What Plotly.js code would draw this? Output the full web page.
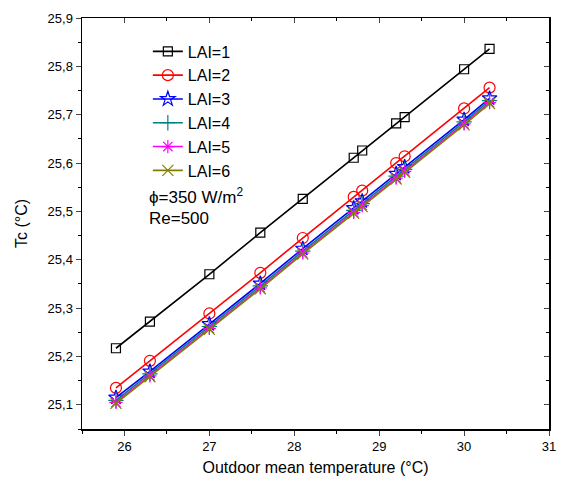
<!DOCTYPE html>
<html>
<head>
<meta charset="utf-8">
<script src="https://cdn.plot.ly/plotly-3.0.1.min.js"></script>
<style>html,body{margin:0;padding:0;background:#fff;}#chart{width:567px;height:490px;}</style>
</head>
<body>
<div id="chart"></div>
<script>
const outdoorTemp = [25.9, 26.3, 27, 27.6, 28.1, 28.7, 28.8, 29.2, 29.3, 30, 30.3];
const lai1 = [25.217, 25.272, 25.370, 25.456, 25.526, 25.611, 25.626, 25.682, 25.695, 25.794, 25.836];
const lai2 = [25.135, 25.191, 25.289, 25.373, 25.445, 25.530, 25.543, 25.600, 25.614, 25.713, 25.756];
const lai3 = [25.115, 25.169, 25.267, 25.351, 25.423, 25.507, 25.521, 25.578, 25.592, 25.690, 25.734];
const lai4 = [25.109, 25.164, 25.262, 25.346, 25.418, 25.502, 25.516, 25.573, 25.587, 25.685, 25.729];
const lai5 = [25.105, 25.160, 25.258, 25.342, 25.414, 25.498, 25.512, 25.569, 25.583, 25.681, 25.725];
const lai6 = [25.103, 25.158, 25.256, 25.340, 25.412, 25.496, 25.510, 25.567, 25.581, 25.679, 25.723];
const seriesNames = ['LAI=1', 'LAI=2', 'LAI=3', 'LAI=4', 'LAI=5', 'LAI=6'];
const seriesValues = [lai1, lai2, lai3, lai4, lai5, lai6];
const colors = ['#000000', '#ff0000', '#0000ff', '#008080', '#ff00ff', '#808000'];
const symbols = ['square-open', 'circle-open', 'star-open', 'cross-thin-open', 'asterisk-open', 'x-thin-open'];
const sizes = [9, 11, 11, 11, 11, 11];

const traces = seriesValues.map((vals, i) => ({
  x: outdoorTemp, y: vals, name: seriesNames[i], type: 'scatter', mode: 'lines+markers',
  line: {color: colors[i], width: 1.6},
  marker: {symbol: symbols[i], size: sizes[i], color: colors[i], line: {color: colors[i], width: 1.2}}
}));
traces.push({x: [null], y: [null], xaxis: 'x2', yaxis: 'y2', showlegend: false, hoverinfo: 'skip', type: 'scatter', mode: 'markers'});

const fontFam = 'Liberation Sans, Arial, sans-serif';
const layout = {
  width: 567, height: 490,
  margin: {l: 82, r: 18, t: 18, b: 61},
  paper_bgcolor: '#fff', plot_bgcolor: '#fff',
  font: {family: fontFam, color: '#000', size: 13},
  showlegend: true,
  legend: {x: 0.141, y: 0.96, xanchor: 'left', yanchor: 'top', bgcolor: 'rgba(0,0,0,0)',
           font: {size: 16, family: fontFam}, tracegroupgap: 0, itemwidth: 30},
  xaxis: {range: [25.5, 31], dtick: 1, tick0: 26, ticks: 'outside', ticklen: 5, tickwidth: 1,
          showline: true, linecolor: '#000', linewidth: 1.5, showgrid: false, zeroline: false,
          minor: {dtick: 0.5, ticks: 'outside', ticklen: 3, tickcolor: '#000'},
          title: {text: 'Outdoor mean temperature (°C)', font: {size: 16}, standoff: 8}},
  yaxis: {range: [25.05, 25.9], dtick: 0.1, tick0: 25.1, ticks: 'outside', ticklen: 5, tickwidth: 1,
          showline: true, linecolor: '#000', linewidth: 1.5, showgrid: false, zeroline: false,
          tickformat: '.1f',
          minor: {dtick: 0.05, ticks: 'outside', ticklen: 3, tickcolor: '#000'},
          title: {text: 'Tc (°C)', font: {size: 16}, standoff: 16}},
  xaxis2: {range: [25.5, 31], overlaying: 'x', side: 'top', anchor: 'y2', dtick: 1, tick0: 26,
           ticks: 'inside', ticklen: 5, showticklabels: false, showline: true, linecolor: '#000',
           linewidth: 1.5, showgrid: false, zeroline: false,
           minor: {dtick: 0.5, ticks: 'inside', ticklen: 3, tickcolor: '#000'}},
  yaxis2: {range: [25.05, 25.9], overlaying: 'y', side: 'right', anchor: 'x2', dtick: 0.1, tick0: 25.1,
           ticks: 'inside', ticklen: 5, showticklabels: false, showline: true, linecolor: '#000',
           linewidth: 1.5, showgrid: false, zeroline: false,
           minor: {dtick: 0.05, ticks: 'inside', ticklen: 3, tickcolor: '#000'}},
  separators: ',.',
  annotations: [
    {xref: 'paper', yref: 'paper', x: 0.14, y: 0.568, xanchor: 'left', yanchor: 'middle', showarrow: false,
     text: 'ϕ=350 W/m<sup>2</sup>', font: {size: 17}},
    {xref: 'paper', yref: 'paper', x: 0.14, y: 0.513, xanchor: 'left', yanchor: 'middle', showarrow: false,
     text: 'Re=500', font: {size: 17}}
  ]
};
Plotly.newPlot('chart', traces, layout, {displayModeBar: false, staticPlot: true});
</script>
</body>
</html>
